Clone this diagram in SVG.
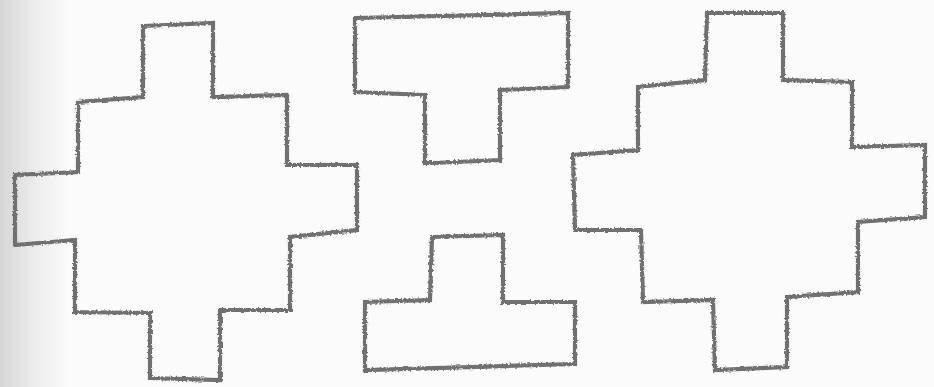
<svg xmlns="http://www.w3.org/2000/svg" width="934" height="387" viewBox="0 0 934 387">
<defs>
<linearGradient id="edge" x1="0" y1="0" x2="1" y2="0">
<stop offset="0" stop-color="#d6d6d6"/>
<stop offset="0.5" stop-color="#ececec"/>
<stop offset="1" stop-color="#fbfbfb"/>
</linearGradient>
<filter id="rough" x="-5%" y="-5%" width="110%" height="110%">
<feTurbulence type="fractalNoise" baseFrequency="0.5" numOctaves="2" seed="3"/>
<feDisplacementMap in="SourceGraphic" scale="3.5" xChannelSelector="R" yChannelSelector="G"/>
</filter>
<style>
.s{fill:none;stroke:#707070;stroke-width:4.2;stroke-linejoin:miter;filter:url(#rough)}
</style>
</defs>
<rect width="934" height="387" fill="#fbfbfb"/>
<rect width="70" height="387" fill="url(#edge)"/>
<g id="cross-left">
<polygon class="s" points="143,26 213,23 213,97 287,95 287,165 357,165 357,230 290,237 290,310 220,310 220,380 150,378 150,313 75,312 75,240 15,245 15,175 78,172 78,102 143,97"/>
</g>
<g id="t-top">
<polygon class="s" points="355,18 568,13 568,87 500,90 500,160 433,163 425,163 425,95 355,92"/>
</g>
<g id="t-bottom">
<polygon class="s" points="432,237 503,235 503,302 575,302 575,364 365,370 365,302 430,300"/>
</g>
<g id="cross-right">
<polygon class="s" points="707,13 783,13 783,80 852,82 852,147 925,145 925,217 858,222 858,292 787,297 787,367 715,370 713,300 643,302 641,230 575,230 573,155 638,150 638,87 705,80"/>
</g>
</svg>
